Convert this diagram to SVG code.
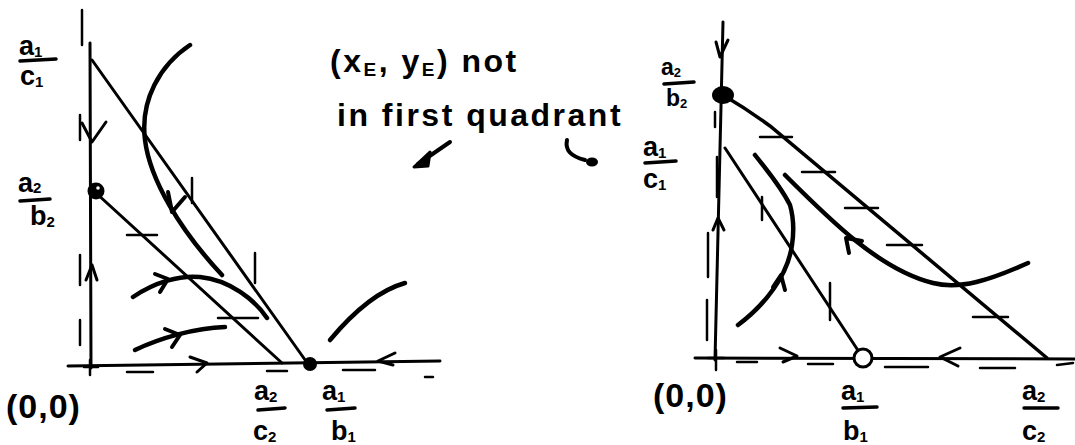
<svg xmlns="http://www.w3.org/2000/svg" width="1075" height="445" viewBox="0 0 1075 445">
<style>
.ax{stroke:#000;stroke-width:3;fill:none;stroke-linecap:round}
.ln{stroke:#000;stroke-width:3;fill:none;stroke-linecap:round}
.cv{stroke:#000;stroke-width:4.5;fill:none;stroke-linecap:round}
.tk{stroke:#000;stroke-width:2.5;fill:none;stroke-linecap:round}
.ah{stroke:#000;stroke-width:3;fill:none;stroke-linecap:round;stroke-linejoin:round}
text{font-family:"Liberation Sans",Arial,sans-serif;font-weight:bold;fill:#000}
.lb{font-size:27px}
.lb2{font-size:23px}
.sb{font-size:15px}
.sb2{font-size:13px}
.pt{font-size:34px;letter-spacing:1px}
.nt{font-size:32px;letter-spacing:2.5px}
.ns{font-size:19px}
.fr{stroke:#000;stroke-width:3.5;stroke-linecap:round}
</style>
<rect width="1075" height="445" fill="#fff"/>

<g id="left-panel">
  <path class="tk" d="M82 10 L82 45"/>
  <path class="ax" d="M90 43 L91 368"/>
  <path class="ax" d="M68 366 L440 361"/>
  <path class="tk" d="M80 115 L80 140 M80 255 L80 285 M80 320 L80 345"/>
  <path class="tk" d="M127 372 L153 372 M267 371 L287 371 M343 370 L375 370 M425 377 L433 377"/>
  <path class="ah" d="M82 123 L92 142 L106 122"/>
  <path class="ah" d="M86 280 L92 265 L97 280"/>
  <path class="ah" d="M190 357 L207 363 L197 372"/>
  <path class="ah" d="M395 353 L378 361 L393 365"/>
  <path class="ln" d="M92 60 L308 364"/>
  <path class="ln" d="M96 193 L282 363"/>
  <path class="tk" d="M192 178 L192 203 M255 253 L255 283"/>
  <path class="tk" d="M127 235 L157 235 M218 318 L258 318"/>
  <path class="cv" d="M190 45 C160 65 140 100 145 140 C150 180 180 230 222 275"/>
  <path class="ah" d="M168 192 L172 212 L185 197" style="stroke-width:4"/>
  <path class="cv" d="M133 297 C155 282 180 275 200 277 C230 280 255 300 267 318"/>
  <path class="ah" d="M155 274 L168 279 L160 292" style="stroke-width:4"/>
  <path class="cv" d="M135 350 C160 338 195 328 225 327"/>
  <path class="ah" d="M165 329 L180 335 L172 347" style="stroke-width:4"/>
  <path class="cv" d="M330 340 C355 310 380 290 405 283"/>
  <circle cx="96" cy="191" r="8.5" fill="#000"/>
  <circle cx="98" cy="188" r="1.8" fill="#fff"/>
  <circle cx="310" cy="364" r="7" fill="#000"/>
  <path class="tk" d="M84 367 L98 367 M90 360 L90 375"/>
</g>

<g id="left-labels">
  <text class="lb" x="19" y="55">a<tspan class="sb" dy="2">1</tspan></text>
  <line class="fr" x1="20" y1="61" x2="56" y2="59"/>
  <text class="lb" x="20" y="85">c<tspan class="sb" dy="2">1</tspan></text>
  <text class="lb" x="18" y="192">a<tspan class="sb" dy="1">2</tspan></text>
  <line class="fr" x1="20" y1="201" x2="50" y2="199"/>
  <text class="lb" x="30" y="225">b<tspan class="sb" dy="2">2</tspan></text>
  <text class="pt" x="6" y="418">(0,0)</text>
  <text class="lb" x="254" y="400">a<tspan class="sb" dy="2">2</tspan></text>
  <line class="fr" x1="258" y1="410" x2="285" y2="408"/>
  <text class="lb" x="253" y="440">c<tspan class="sb" dy="2">2</tspan></text>
  <text class="lb" x="322" y="400">a<tspan class="sb" dy="2">1</tspan></text>
  <line class="fr" x1="327" y1="410" x2="355" y2="408"/>
  <text class="lb" x="331" y="440">b<tspan class="sb" dy="2">1</tspan></text>
</g>

<g id="note">
  <text class="nt" x="330" y="72">(x<tspan class="ns" dy="4">E</tspan><tspan dy="-4">, y</tspan><tspan class="ns" dy="4">E</tspan><tspan dy="-4">) not</tspan></text>
  <text class="nt" x="337" y="126">in first quadrant</text>
  <path class="ah" d="M450 142 L418 164" style="stroke-width:4"/>
  <path d="M414 167 L430 152 L428 166 Z" fill="#000" stroke="#000" stroke-width="3" stroke-linejoin="round"/>
  <path class="ah" d="M567 140 C565 150 570 156 585 160" style="stroke-width:4"/>
  <ellipse cx="592" cy="162" rx="6" ry="4.5" fill="#000"/>
</g>

<g id="right-panel">
  <path class="ax" d="M723 22 L715 360"/>
  <path class="ax" d="M695 358 L1075 359"/>
  <path class="ah" d="M716 42 L720 57 L728 40"/>
  <path class="ah" d="M713 230 L718 218 L724 230"/>
  <path class="tk" d="M715 112 L715 127 M717 157 L717 197 M708 233 L708 277 M707 300 L707 340"/>
  <path class="tk" d="M737 362 L757 362 M808 364 L833 364 M885 367 L928 367 M980 368 L1015 368 M1057 365 L1073 363"/>
  <path class="ah" d="M780 348 L797 356 L783 362"/>
  <path class="ah" d="M960 348 L940 357 L958 366"/>
  <path class="ln" d="M723 95 C740 105 755 115 770 126 L1047 358" style="stroke-width:3.5"/>
  <path class="ln" d="M725 148 L863 358"/>
  <path class="tk" d="M760 137 L792 137 M802 172 L835 172 M845 208 L878 208 M887 245 L922 245 M973 317 L1008 317"/>
  <path class="tk" d="M762 197 L762 220 M830 283 L830 320"/>
  <path class="cv" d="M738 325 C765 305 788 275 792 245 C795 225 792 212 790 205 C780 185 765 168 755 155"/>
  <path class="ah" d="M773 287 L781 275 L785 290" style="stroke-width:4"/>
  <path class="cv" d="M785 175 C830 220 880 270 933 283 C960 290 990 280 1028 263"/>
  <path class="ah" d="M849 253 L846 238 L862 241" style="stroke-width:4"/>
  <ellipse cx="723" cy="95" rx="11" ry="9" fill="#000"/>
  <circle cx="863" cy="358" r="9" fill="#fff" stroke="#000" stroke-width="3"/>
  <path class="tk" d="M708 358 L724 358 M716 350 L716 370"/>
</g>

<g id="right-labels">
  <text class="lb2" x="661" y="75">a<tspan class="sb2" dy="2">2</tspan></text>
  <line class="fr" x1="664" y1="84" x2="694" y2="82"/>
  <text class="lb2" x="666" y="106">b<tspan class="sb2" dy="2">2</tspan></text>
  <text class="lb" x="643" y="156">a<tspan class="sb" dy="2">1</tspan></text>
  <line class="fr" x1="645" y1="163" x2="676" y2="161"/>
  <text class="lb" x="643" y="188">c<tspan class="sb" dy="2">1</tspan></text>
  <text class="pt" x="653" y="407">(0,0)</text>
  <text class="lb" x="841" y="400">a<tspan class="sb" dy="2">1</tspan></text>
  <line class="fr" x1="843" y1="408" x2="877" y2="407"/>
  <text class="lb" x="843" y="440">b<tspan class="sb" dy="2">1</tspan></text>
  <text class="lb" x="1022" y="400">a<tspan class="sb" dy="2">2</tspan></text>
  <line class="fr" x1="1024" y1="408" x2="1058" y2="408"/>
  <text class="lb" x="1022" y="440">c<tspan class="sb" dy="2">2</tspan></text>
</g>
</svg>
